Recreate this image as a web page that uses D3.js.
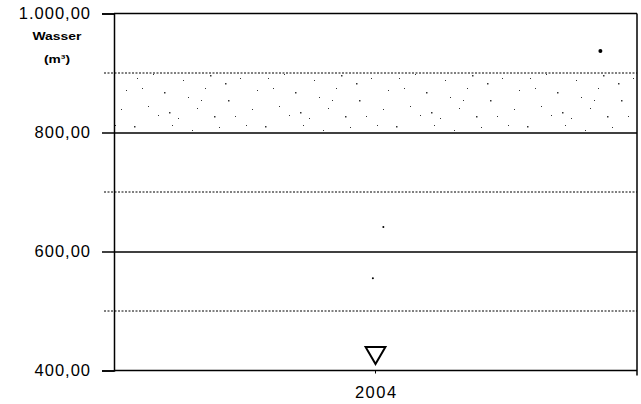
<!DOCTYPE html>
<html><head><meta charset="utf-8">
<script src="https://cdn.jsdelivr.net/npm/d3@7"></script>
<style>body{margin:0;background:#fff}svg{display:block}text{font-family:"Liberation Sans",Arial,sans-serif}</style>
</head><body>
<svg id="c" width="641" height="404"></svg>
<script>
const categories = ["2004"];
const yTicks = [400, 600, 800, 1000];
const minorGrid = [500, 700, 900];
const majorGrid = [600, 800];
const bandRange = [800, 900];
const markerValues = [430];          // triangle marker at 2004
const pointX = [2004.43, 2004.015, 2003.995];
const pointY = [937, 641, 555];
const pointR = [2, 1, 1];

const svg = d3.select("#c");
const m = {l:114, r:4, t:13.5, b:33.5};
const W = 641, H = 404;
const y = d3.scaleLinear().domain([400,1000]).range([H-m.b, m.t]);
const xb = d3.scaleBand().domain(categories).range([m.l, W-m.r]);
const xl = d3.scaleLinear().domain([2003.5, 2004.5]).range([m.l, W-m.r]);

// stipple texture for band (scan-like, irregular)
const defs = svg.append("defs");
const pat = defs.append("pattern").attr("id","st").attr("patternUnits","userSpaceOnUse")
  .attr("width",131).attr("height",61);
[[3,4],[22,13],[41,3],[11,27],[33,31],[52,19],[17,45],[6,17],[38,51],[61,8],[74,27],[88,5],
 [97,39],[109,17],[121,48],[66,47],[83,55],[115,3],[57,36],[126,29],[94,22],[47,57],[27,54],[104,55],
 [79,14],[70,39]].forEach((p,i)=>
  pat.append("rect").attr("x",p[0]).attr("y",p[1]).attr("width",i%4===0?1.5:1).attr("height",i%4===0?1.5:1).attr("fill","#333"));
svg.append("rect").attr("x",m.l).attr("width",W-m.r-m.l)
  .attr("y",y(bandRange[1])).attr("height",y(bandRange[0])-y(bandRange[1]))
  .attr("fill","url(#st)");

// grid
svg.selectAll(".mg").data(minorGrid).join("line")
  .attr("x1",m.l-10).attr("x2",W-m.r).attr("y1",d=>y(d)).attr("y2",d=>y(d))
  .attr("stroke","#000").attr("stroke-width",1).attr("stroke-dasharray","2,1.5");
svg.selectAll(".Mg").data(majorGrid).join("line")
  .attr("x1",m.l).attr("x2",W-m.r).attr("y1",d=>y(d)+0.5).attr("y2",d=>y(d)+0.5)
  .attr("stroke","#000").attr("stroke-width",1.5);
// top line
svg.append("line").attr("x1",m.l).attr("x2",W-m.r).attr("y1",y(1000)).attr("y2",y(1000))
  .attr("stroke","#000").attr("stroke-width",1.5);
// right border
svg.append("line").attr("x1",W-m.r).attr("x2",W-m.r).attr("y1",y(1000)).attr("y2",y(400)+5)
  .attr("stroke","#000").attr("stroke-width",1.5);

// y axis
const fmt = d3.formatLocale({decimal:",",thousands:".",grouping:[3],currency:["",""]}).format(",.2f");
const ya = svg.append("g").attr("transform",`translate(${m.l},0)`)
  .call(d3.axisLeft(y).tickValues(yTicks).tickSize(12).tickPadding(11).tickFormat(fmt));
ya.select(".domain").attr("stroke-width",1.5);
ya.selectAll(".tick line").attr("stroke-width",1.5);
ya.selectAll("text").attr("font-size",16.5).attr("letter-spacing","1px").attr("fill","#000");

// x axis
const xa = svg.append("g").attr("transform",`translate(0,${y(400)})`)
  .call(d3.axisBottom(xb).tickSize(3).tickPadding(13));
xa.select(".domain").attr("d",`M${m.l},0H${W-m.r}`).attr("stroke-width",1.5);
xa.selectAll("text").attr("font-size",16.5).attr("letter-spacing","1.5px").attr("fill","#000")
  .attr("dx","0.75");

// triangle marker
const tri = d3.symbol().type(d3.symbolTriangle).size(170);
svg.selectAll(".tri").data(markerValues).join("path")
  .attr("d",tri).attr("transform",d=>`translate(${xb(categories[0])+xb.bandwidth()/2},${y(d)}) rotate(180)`)
  .attr("fill","none").attr("stroke","#000").attr("stroke-width",2);

// points
svg.selectAll(".pt").data(pointY).join("circle")
  .attr("cx",(d,i)=>xl(pointX[i])).attr("cy",d=>y(d)).attr("r",(d,i)=>pointR[i]).attr("fill","#000");

// title label
svg.append("text").attr("x",57).attr("y",40).attr("text-anchor","middle")
  .attr("font-size",11).attr("font-weight","bold").attr("textLength",49).attr("lengthAdjust","spacingAndGlyphs").text("Wasser");
svg.append("text").attr("x",57).attr("y",63).attr("text-anchor","middle")
  .attr("font-size",11).attr("font-weight","bold").attr("textLength",26).attr("lengthAdjust","spacingAndGlyphs").text("(m³)");
</script>
</body></html>
